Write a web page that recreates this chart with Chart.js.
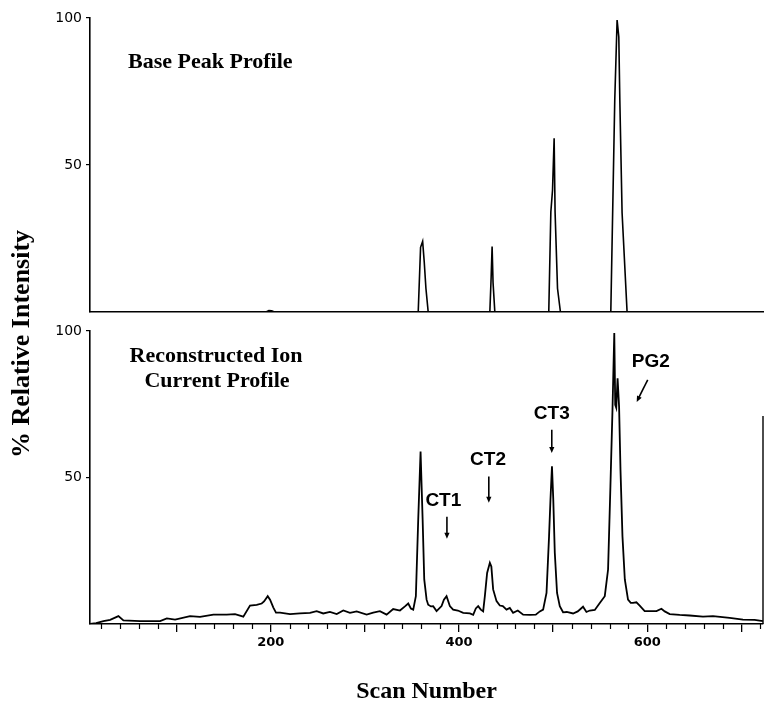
<!DOCTYPE html>
<html><head><meta charset="utf-8">
<script src="https://cdn.jsdelivr.net/npm/chart.js@4.4.0/dist/chart.umd.min.js"></script>
<style>
html,body{margin:0;padding:0;background:#fff;}
#wrap{position:relative;width:765px;height:704px;background:#fff;overflow:hidden;}
#wrap canvas{position:absolute;left:0;top:0;}
</style></head><body>
<div id="wrap"><canvas id="ric" width="765" height="704"></canvas><canvas id="bpp" width="765" height="704"></canvas></div>
<script>
// ---- data ----
const basePeakScan = [8, 195, 198, 201, 204, 356.7, 359.2, 361.4, 363.1, 364.9, 367.3, 432.8, 434.2, 435.2, 436.2, 438.1, 495.4, 497.6, 499.4, 501.1, 502.1, 504.7, 507.8, 561.3, 565.5, 568.0, 569.8, 570.9, 573.3, 578.6, 723];
const basePeakIntensity = [0, 0, 0.5, 0.4, 0, 0, 22, 24, 17, 8, 0, 0, 12, 22.3, 10, 0, 0, 34, 41.5, 59.1, 34, 8, 0, 0, 72, 99.3, 93.6, 72, 33.7, 0, 0];

const ricScan = [8, 14.5, 22.3, 29.4, 38.2, 43.5, 61.3, 82.5, 89.6, 98.4, 114.3,
  124.9, 139.1, 153.3, 162.1, 170.9, 178.0, 185.1, 190.4, 192.9, 196.8,
  199.3, 202.8, 205.6, 209.9, 220.5, 231.1, 241.7, 248.8, 255.8, 262.9,
  270.1, 277.1, 284.2, 291.3, 301.9, 308.9, 316.0, 323.1, 330.1, 337.3,
  342.6, 346.1, 348.9, 351.4, 354.2, 356.7, 359.2, 361.4, 363.1, 365.6,
  367.3, 370.2, 372.6, 376.2, 381.5, 384.0, 386.8, 390.3, 393.8, 398.8,
  404.5, 411.6, 415.1, 417.9, 420.4, 423.2, 425.7, 427.5, 429.9, 432.8,
  434.4, 436.3, 439.9, 443.4, 446.6, 450.5, 454.0, 457.5, 462.5, 468.2,
  475.3, 481.6, 485.9, 489.4, 493.0, 495.7, 497.2, 498.8, 500.2, 501.8,
  504.2, 507.1, 510.6, 514.5, 521.2, 526.2, 531.8, 535.4, 539.0, 544.3,
  549.6, 554.9, 558.4, 560.9, 563.1, 565.0, 566.0, 567.1, 568.5, 570.1,
  571.6, 573.7, 576.2, 579.6, 582.5, 584.9, 588.5, 592.0, 597.3, 603.7,
  609.8, 615.1, 618.6, 623.9, 634.5, 645.1, 659.2, 669.9, 687.6, 701.7,
  714.1, 722.9];
const ricIntensity = [0, 0.3, 1.0, 1.4, 2.7, 1.2, 1.0, 1.0, 1.9, 1.5, 2.7,
  2.4, 3.2, 3.2, 3.4, 2.5, 6.3, 6.5, 7.0, 7.7, 9.5,
  8.3, 5.6, 3.9, 3.9, 3.4, 3.6, 3.8, 4.4, 3.6, 4.1,
  3.4, 4.6, 3.8, 4.3, 3.2, 3.9, 4.4, 3.2, 5.1, 4.6,
  6.0, 7.0, 5.3, 4.9, 9.5, 35.6, 58.9, 35.6, 15.2, 8.3,
  6.6, 6.0, 6.1, 4.4, 6.1, 8.3, 9.5, 6.1, 4.9, 4.6,
  3.8, 3.6, 3.1, 5.3, 6.1, 4.9, 4.3, 9.5, 17.4, 20.9,
  19.6, 11.8, 7.8, 6.3, 6.1, 4.9, 5.5, 3.8, 4.6, 3.2,
  3.1, 3.2, 4.3, 4.9, 10.6, 29.9, 42.4, 53.8, 42.4, 24.3,
  10.6, 6.1, 4.0, 4.1, 3.6, 4.3, 5.9, 4.1, 4.6, 4.8,
  7.2, 9.5, 18.6, 47.0, 73.1, 99.3, 74.8, 73.8, 83.9, 74.2,
  52.6, 29.9, 15.2, 8.3, 7.2, 7.2, 7.4, 6.3, 4.4, 4.4,
  4.4, 5.2, 4.3, 3.4, 3.1, 2.9, 2.5, 2.7, 2.1, 1.5,
  1.4, 1.0];

const yTickValues = [50, 100];
const xMajorTicks = [100, 200, 300, 400, 500, 600, 700];
const xTickLabels = [200, 400, 600];
const xMinorStep = 20;

// peak annotations (data coordinates)
const peakLabels = ['CT1', 'CT2', 'CT3', 'PG2'];
const peakLabelScan = [383.4, 430.9, 498.6, 603.8];
const peakLabelLevel = [42.2, 56.2, 71.9, 89.6];
const arrowFromScan = [387.2, 431.7, 498.6, 600.5];
const arrowFromLevel = [36.6, 50.3, 66.3, 83.3];
const arrowToScan = [387.2, 431.7, 498.6, 588.8];
const arrowToLevel = [29.1, 41.4, 58.4, 75.8];

const X_MIN = 8, X_MAX = 723;

function pts(xs, ys) { return xs.map((x, i) => ({ x: x, y: ys[i] })); }

function yAxis() {
  return {
    type: 'linear', min: 0, max: 100,
    afterFit: s => { s.width = 90; },
    afterBuildTicks: s => { s.ticks = yTickValues.map(v => ({ value: v })); },
    grid: { display: true, drawOnChartArea: false, drawTicks: true, tickLength: 4, color: '#000', lineWidth: 1.2 },
    border: { display: true, color: '#000', width: 1.6 },
    ticks: { color: '#000', font: { family: '"DejaVu Sans"', size: 14 }, padding: 4 }
  };
}

const serifBold = sz => 'bold ' + sz + 'px "Liberation Serif", "Times New Roman", serif';

// ---- top: base peak profile ----
const bppPlugin = {
  id: 'bppText',
  afterDraw(chart) {
    const { ctx, chartArea } = chart;
    ctx.save();
    ctx.fillStyle = '#000';
    ctx.font = serifBold(22);
    ctx.textAlign = 'left';
    ctx.textBaseline = 'alphabetic';
    ctx.fillText('Base Peak Profile', chartArea.left + 38, chartArea.top + 50);
    ctx.restore();
  }
};

new Chart(document.getElementById('bpp'), {
  type: 'line',
  data: { datasets: [{ data: pts(basePeakScan, basePeakIntensity), borderColor: '#000', borderWidth: 1.6, pointRadius: 0, tension: 0, fill: false }] },
  options: {
    responsive: false, animation: false, events: [],
    layout: { padding: { top: 18, right: 2, left: 0, bottom: 392 } },
    plugins: { legend: { display: false }, tooltip: { enabled: false } },
    scales: {
      x: { type: 'linear', min: X_MIN, max: X_MAX, afterFit: s => { s.height = 0; },
           ticks: { display: false }, grid: { display: false },
           border: { display: true, color: '#000', width: 1.6 } },
      y: yAxis()
    }
  },
  plugins: [bppPlugin]
});

// ---- bottom: reconstructed ion current ----
function arrow(ctx, x1, y1, x2, y2) {
  const ang = Math.atan2(y2 - y1, x2 - x1);
  const hl = 6, hw = 2.6;
  ctx.beginPath(); ctx.moveTo(x1, y1); ctx.lineTo(x2 - Math.cos(ang) * hl * 0.6, y2 - Math.sin(ang) * hl * 0.6); ctx.stroke();
  ctx.beginPath();
  ctx.moveTo(x2, y2);
  ctx.lineTo(x2 - Math.cos(ang) * hl + Math.sin(ang) * hw, y2 - Math.sin(ang) * hl - Math.cos(ang) * hw);
  ctx.lineTo(x2 - Math.cos(ang) * hl - Math.sin(ang) * hw, y2 - Math.sin(ang) * hl + Math.cos(ang) * hw);
  ctx.closePath(); ctx.fill();
}

const ricPlugin = {
  id: 'ricText',
  afterDraw(chart) {
    const { ctx, chartArea } = chart;
    const xs = chart.scales.x, ys = chart.scales.y;
    ctx.save();
    ctx.fillStyle = '#000'; ctx.strokeStyle = '#000';
    // minor ticks
    ctx.lineWidth = 1.2;
    for (let v = xMinorStep; v < X_MAX; v += xMinorStep) {
      if (xMajorTicks.includes(v)) continue;
      const px = Math.round(xs.getPixelForValue(v)) + 0.5;
      ctx.beginPath(); ctx.moveTo(px, chartArea.bottom); ctx.lineTo(px, chartArea.bottom + 5); ctx.stroke();
    }
    // right edge line (partial)
    ctx.lineWidth = 1.4;
    ctx.beginPath(); ctx.moveTo(chartArea.right, ys.getPixelForValue(71)); ctx.lineTo(chartArea.right, chartArea.bottom); ctx.stroke();
    // panel title
    ctx.font = serifBold(22);
    ctx.textAlign = 'center'; ctx.textBaseline = 'alphabetic';
    ctx.fillText('Reconstructed Ion', chartArea.left + 126, chartArea.top + 31);
    ctx.fillText('Current Profile', chartArea.left + 127, chartArea.top + 56);
    // peak labels and arrows
    ctx.font = 'bold 19px "Liberation Sans", Arial, sans-serif';
    ctx.textAlign = 'center'; ctx.textBaseline = 'middle';
    ctx.lineWidth = 1.6;
    for (let i = 0; i < peakLabels.length; i++) {
      ctx.fillText(peakLabels[i], xs.getPixelForValue(peakLabelScan[i]), ys.getPixelForValue(peakLabelLevel[i]));
      arrow(ctx, xs.getPixelForValue(arrowFromScan[i]), ys.getPixelForValue(arrowFromLevel[i]),
                 xs.getPixelForValue(arrowToScan[i]), ys.getPixelForValue(arrowToLevel[i]));
    }
    // shared y title
    ctx.font = serifBold(26);
    ctx.translate(22, 344);
    ctx.rotate(-Math.PI / 2);
    ctx.textAlign = 'center'; ctx.textBaseline = 'middle';
    ctx.fillText('% Relative Intensity', 0, 0);
    ctx.restore();
  }
};

new Chart(document.getElementById('ric'), {
  type: 'line',
  data: { datasets: [{ data: pts(ricScan, ricIntensity), borderColor: '#000', borderWidth: 1.8, pointRadius: 0, tension: 0, fill: false }] },
  options: {
    responsive: false, animation: false, events: [],
    layout: { padding: { top: 331, right: 2, left: 0, bottom: 0 } },
    plugins: { legend: { display: false }, tooltip: { enabled: false } },
    scales: {
      x: {
        type: 'linear', min: X_MIN, max: X_MAX,
        afterFit: s => { s.height = 80; },
        afterBuildTicks: s => { s.ticks = xMajorTicks.map(v => ({ value: v })); },
        ticks: { color: '#000', font: { family: '"DejaVu Sans"', size: 13, weight: 'bold' }, padding: 3, maxRotation: 0, autoSkip: false,
                 callback: v => xTickLabels.includes(v) ? String(v) : '' },
        grid: { display: true, drawOnChartArea: false, drawTicks: true, tickLength: 8, color: '#000', lineWidth: 1.3 },
        border: { display: true, color: '#000', width: 1.6 },
        title: { display: true, text: 'Scan Number', color: '#000', padding: 0,
                 font: { family: '"Liberation Serif", "Times New Roman", serif', size: 24, weight: 'bold', lineHeight: 1 } }
      },
      y: yAxis()
    }
  },
  plugins: [ricPlugin]
});
</script>
</body></html>
